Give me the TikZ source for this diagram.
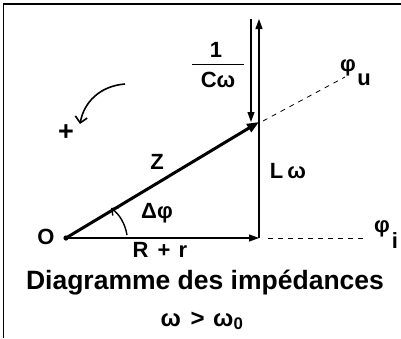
\documentclass[tikz,border=0pt]{standalone}
\usepackage{fontspec}
\setmainfont{Liberation Sans}
\usetikzlibrary{arrows.meta,calc}
\begin{document}
\begin{tikzpicture}[x=1pt,y=-1pt,
  lbl/.style={font=\fontsize{22}{22}\selectfont\bfseries, inner sep=0pt},
  big/.style={font=\fontsize{26.5}{26.5}\selectfont\bfseries, inner sep=0pt},
  vec/.style={line width=1.1pt, -{Triangle[length=10pt,width=7pt]}},
  dsh/.style={line width=0.8pt, dash pattern=on 5pt off 5pt},
  barb/.style={line width=1.4pt, -{Straight Barb[length=5pt,width=10pt]}}]
\useasboundingbox (0,0) rectangle (401,338);
\draw[line width=1.8pt] (3.5,338) -- (3.5,4) -- (401,4);
\coordinate (O) at (66,238);
\coordinate (A) at (259,238);
\coordinate (T) at (259,19);
\coordinate (M) at (259,122);
\coordinate (D1) at (251,19);
\coordinate (D2) at (251,122);
\coordinate (U1) at (263,121);
\coordinate (U2) at (345,77);
\coordinate (I1) at (268,238);
\coordinate (I2) at (364,238);
\fill (O) circle (2.6pt);
\draw[vec] (O) -- (A);
\draw[vec] (A) -- (T);
\draw[vec] (D1) -- (D2);
\draw[line width=3pt, -{Triangle[length=12pt,width=9pt]}] (O) -- (M);
\draw[dsh] (U1) -- (U2);
\draw[dsh] (I1) -- (I2);
\draw[barb, line width=1.6pt, -{Straight Barb[length=6pt,width=12pt]}] (125,84) .. controls (100,86) and (84,102) .. (80,124);
\draw[barb] (127,235) .. controls (125,223) and (119,214) .. (111,208);
\node[lbl] (o) at (46,237) {O};
\node[lbl] (z) at (157,162) {Z};
\node[lbl] (dp) at (157,213) {Δφ};
\node[lbl] (rr) at (160,250) {R\hspace{3pt} + \hspace{2pt}r};
\node[lbl, font=\fontsize{27}{27}\selectfont\bfseries] (pl) at (66,133) {+};
\node[lbl] (lw) at (288,171) {L\hspace{4pt}ω};
\node[lbl] (one) at (216,50) {1};
\node[lbl] (cw) at (218,80) {Cω};
\draw[line width=0.9pt] (192,64) -- (244,64);
\node[lbl] (pu) at (348,68) {φ};
\node[lbl] (pus) at (364,80) {u};
\node[lbl] (pi) at (382,229) {φ};
\node[lbl] (pis) at (395,241) {i};
\node[big] (t1) at (205,283) {Diagramme des impédances};
\node[font=\fontsize{24}{24}\selectfont\bfseries, inner sep=0pt] (t2) at (202,321) {ω\hspace{3pt} > \hspace{2pt}ω\textsubscript{0}};
\end{tikzpicture}
\end{document}
